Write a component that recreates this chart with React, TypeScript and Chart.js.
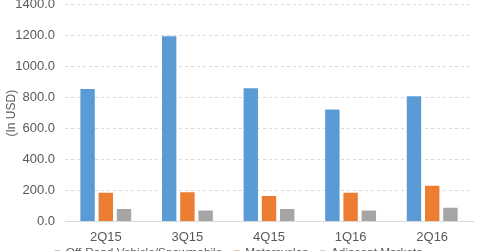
import React, { useEffect, useRef } from "react";
import { Chart, registerables } from "chart.js";

Chart.register(...registerables);

const categories = ["2Q15", "3Q15", "4Q15", "1Q16", "2Q16"];
const offRoad = [856, 1197, 861, 724, 810];
const motorcycles = [186, 190, 165, 186, 231];
const adjacent = [81, 72, 81, 72, 89];
const seriesNames = ["Off-Road Vehicle/Snowmobile", "Motorcycles", "Adjacent Markets"];

const noLabelClip = {
  id: "noLabelClip",
  beforeDraw(chart: any) {
    const s = chart.scales.x;
    if (s) s._computeLabelArea = () => undefined;
  },
};

export default function App() {
  const ref = useRef<HTMLCanvasElement | null>(null);
  useEffect(() => {
    if (!ref.current) return;
    const font = { family: "'Liberation Sans', Arial, sans-serif", size: 13 };
    const chart = new Chart(ref.current, {
      type: "bar",
      data: {
        labels: categories,
        datasets: [
          { label: seriesNames[0], data: offRoad, backgroundColor: "#5B9BD5" },
          { label: seriesNames[1], data: motorcycles, backgroundColor: "#ED7D31" },
          { label: seriesNames[2], data: adjacent, backgroundColor: "#A5A5A5" },
        ],
      },
      plugins: [noLabelClip],
      options: {
        animation: false,
        responsive: false,
        maintainAspectRatio: false,
        layout: { padding: { left: 4, right: 7, top: 0, bottom: 0 } },
        datasets: { bar: { categoryPercentage: 0.67, barPercentage: 0.79 } },
        plugins: {
          legend: {
            position: "bottom",
            labels: {
              font: { ...font, size: 11.8 },
              color: "#595959",
              boxWidth: 5,
              boxHeight: 5,
              padding: 12,
            },
          },
          tooltip: { enabled: false },
        },
        scales: {
          x: {
            afterFit: (s: any) => { s.height = Math.max(0, s.height - 18); },
            grid: { display: false, drawTicks: false },
            border: { display: true, color: "#D9D9D9", width: 1 },
            ticks: { font, color: "#595959", padding: 8 },
          },
          y: {
            min: 0,
            max: 1400,
            afterFit: (s: any) => { s.width = 61; },
            ticks: {
              stepSize: 200,
              autoSkip: false,
              font,
              color: "#595959",
              padding: 10,
              callback: (v: any) => Number(v).toFixed(1),
            },
            grid: { color: "#D9D9D9", drawTicks: false },
            border: { display: false, dash: [3, 3] },
            title: { display: true, text: "(In USD)", font: { ...font, size: 12 }, color: "#595959", padding: 0 },
          },
        },
      },
    });
    return () => chart.destroy();
  }, []);
  return (
    <div style={{ position: "fixed", left: 0, top: -13, width: 480, height: 282, background: "#fff" }}>
      <canvas ref={ref} width={480} height={282} style={{ width: 480, height: 282 }} />
    </div>
  );
}
